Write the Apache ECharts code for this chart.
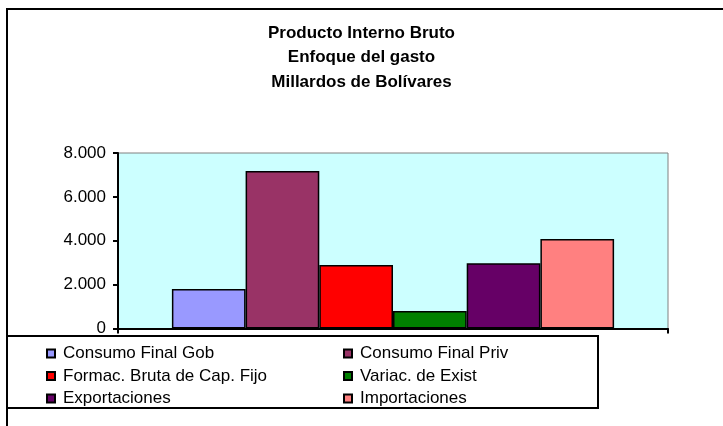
<!DOCTYPE html>
<html>
<head>
<meta charset="utf-8">
<script src="https://cdn.jsdelivr.net/npm/echarts@6/dist/echarts.min.js"></script>
<style>html,body{margin:0;padding:0;background:#fff;}#c{width:723px;height:426px;}</style>
</head>
<body>
<div id="c"></div>
<script>
const titleLines = ['Producto Interno Bruto', 'Enfoque del gasto', 'Millardos de Bolívares'];
const categories = [''];
const seriesNames = ['Consumo Final Gob', 'Consumo Final Priv', 'Formac. Bruta de Cap. Fijo', 'Variac. de Exist', 'Exportaciones', 'Importaciones'];
const seriesValues = [1800, 7175, 2890, 795, 2980, 4075];
const seriesColors = ['#9999FF', '#993366', '#FF0000', '#008000', '#660066', '#FF8080'];
const yTicks = [0, 2000, 4000, 6000, 8000];

const FONT = "'Liberation Sans', Arial, sans-serif";
const chart = echarts.init(document.getElementById('c'), null, {renderer: 'canvas'});

function fmt(v) {
  return String(v).replace(/\B(?=(\d{3})+(?!\d))/g, '.');
}

const series = seriesNames.map((n, i) => ({
  name: n,
  type: 'bar',
  data: [seriesValues[i]],
  barGap: '0%',
  barCategoryGap: '19.6%',
  itemStyle: {color: seriesColors[i], borderColor: '#000', borderWidth: 1.5},
  emphasis: {disabled: true},
  animation: false
}));

const legendCommon = {
  orient: 'vertical',
  icon: 'rect',
  itemWidth: 8,
  itemHeight: 8,
  itemGap: 5.5,
  padding: 0,
  selectedMode: false,
  itemStyle: {borderColor: '#000', borderWidth: 2},
  textStyle: {fontFamily: FONT, fontSize: 17, color: '#000', lineHeight: 17, padding: [0, 0, 0, 3]}
};

chart.setOption({
  animation: false,
  backgroundColor: '#fff',
  title: {
    text: titleLines.join('\n'),
    left: 'center',
    top: 21,
    padding: 0,
    textStyle: {fontFamily: FONT, fontSize: 17, fontWeight: 'bold', color: '#000', lineHeight: 24.5}
  },
  graphic: [
    {type: 'rect', shape: {x: 7, y: 9, width: 800, height: 500}, style: {fill: 'none', stroke: '#000', lineWidth: 2}, z: 100},
    {type: 'rect', shape: {x: 7, y: 336, width: 591, height: 72}, style: {fill: 'none', stroke: '#000', lineWidth: 2}, z: 100}
  ],
  legend: [
    Object.assign({}, legendCommon, {left: 46, top: 345, data: [seriesNames[0], seriesNames[2], seriesNames[4]]}),
    Object.assign({}, legendCommon, {left: 343, top: 345, data: [seriesNames[1], seriesNames[3], seriesNames[5]]})
  ],
  grid: {
    left: 118, top: 153, right: 55, bottom: 97.5,
    show: true, backgroundColor: '#CCFFFF', borderColor: '#808080', borderWidth: 1,
    containLabel: false
  },
  xAxis: {
    type: 'category',
    data: categories,
    axisLine: {show: true, lineStyle: {color: '#000', width: 2}},
    axisTick: {show: true, length: 5, lineStyle: {color: '#000', width: 2}},
    axisLabel: {show: false},
    splitLine: {show: false}
  },
  yAxis: {
    type: 'value',
    min: yTicks[0],
    max: yTicks[yTicks.length - 1],
    interval: yTicks[1] - yTicks[0],
    axisLine: {show: true, lineStyle: {color: '#000', width: 2}},
    axisTick: {show: true, length: 5, lineStyle: {color: '#000', width: 2}},
    axisLabel: {fontFamily: FONT, fontSize: 17, color: '#000', margin: 12, formatter: fmt},
    splitLine: {show: false}
  },
  series: series
});
</script>
</body>
</html>
